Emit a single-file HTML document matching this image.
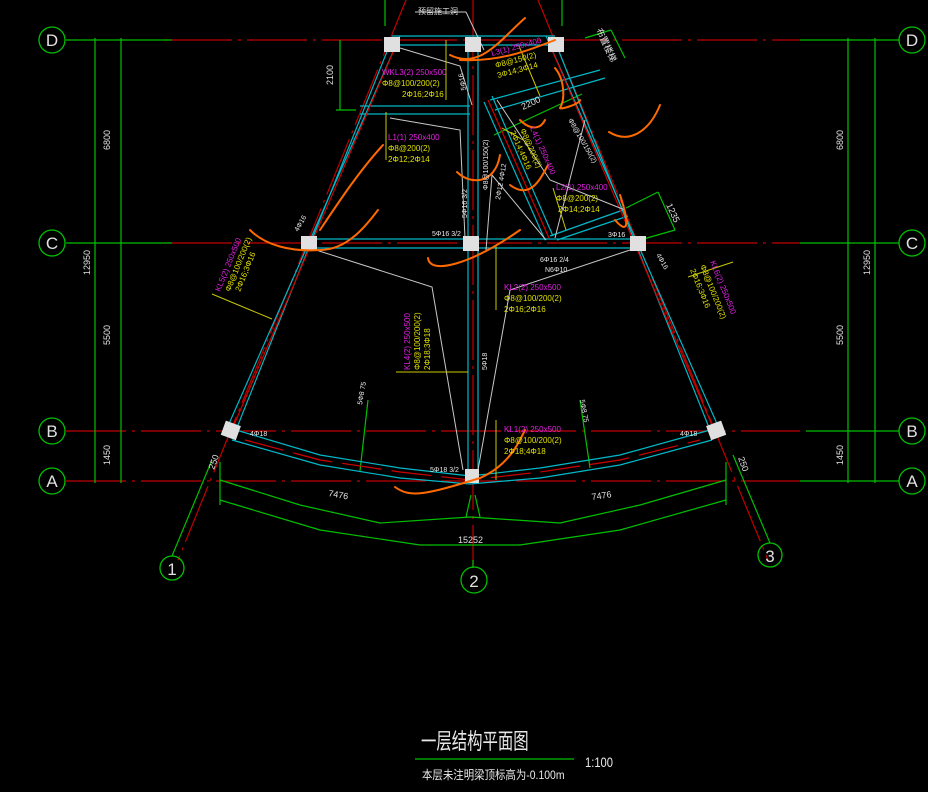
<!DOCTYPE html>
<html><head><meta charset="utf-8"><style>
html,body{margin:0;padding:0;background:#000;}
svg{display:block;}
text{font-family:"Liberation Sans","Noto Sans CJK SC",sans-serif;}
</style></head><body>
<svg width="928" height="792" viewBox="0 0 928 792" xmlns="http://www.w3.org/2000/svg">
<rect width="928" height="792" fill="#000"/>
<g stroke="#c00000" stroke-width="1.2" stroke-dasharray="60,6,3,6">
<line x1="172" y1="40" x2="800" y2="40"/>
<line x1="172" y1="243" x2="800" y2="243"/>
<line x1="66" y1="431" x2="800" y2="431"/>
<line x1="66" y1="481" x2="800" y2="481"/>
<line x1="473" y1="0" x2="473" y2="568"/>
<line x1="406" y1="0" x2="178" y2="560"/>
<line x1="538" y1="0" x2="768" y2="560"/>
</g>
<g stroke="#00c000" stroke-width="1.2" fill="none">
<line x1="66" y1="40" x2="172" y2="40"/>
<line x1="66" y1="243" x2="172" y2="243"/>
<line x1="800" y1="40" x2="899" y2="40"/>
<line x1="800" y1="243" x2="899" y2="243"/>
<line x1="806" y1="431" x2="899" y2="431"/>
<line x1="800" y1="481" x2="899" y2="481"/>
<line x1="95" y1="38" x2="95" y2="483"/>
<line x1="121" y1="38" x2="121" y2="483"/>
<line x1="848" y1="38" x2="848" y2="483"/>
<line x1="875" y1="38" x2="875" y2="483"/>
<line x1="385" y1="0" x2="385" y2="26"/>
<line x1="562" y1="0" x2="562" y2="26"/>
<line x1="473" y1="560" x2="473" y2="568"/>
<polyline points="220,480 300,505 380,523 470,517 560,523 640,505 726,480"/>
<polyline points="220,500 320,530 420,545 520,545 620,530 726,500"/>
<line x1="220" y1="462" x2="220" y2="505"/>
<line x1="726" y1="462" x2="726" y2="505"/>
<line x1="172" y1="556" x2="212" y2="460"/>
<line x1="770" y1="543" x2="733" y2="455"/>
<line x1="466" y1="517" x2="471" y2="495"/>
<line x1="480" y1="517" x2="475" y2="495"/>
<line x1="360" y1="471" x2="368" y2="400"/>
<line x1="590" y1="468" x2="580" y2="400"/>
<line x1="340" y1="40" x2="340" y2="110"/>
<line x1="336" y1="110" x2="356" y2="110"/>
<line x1="494" y1="135" x2="582" y2="94"/>
<line x1="585" y1="38" x2="611" y2="30"/>
<line x1="611" y1="30" x2="625" y2="58"/>
<line x1="658" y1="192" x2="675" y2="230"/>
<line x1="626" y1="208" x2="658" y2="192"/>
<line x1="640" y1="240" x2="675" y2="230"/>
</g>
<g stroke="#00c000" stroke-width="1.3" fill="none">
<circle cx="52" cy="40" r="13"/><circle cx="52" cy="243" r="13"/><circle cx="52" cy="431" r="13"/><circle cx="52" cy="481" r="13"/>
<circle cx="912" cy="40" r="13"/><circle cx="912" cy="243" r="13"/><circle cx="912" cy="431" r="13"/><circle cx="912" cy="481" r="13"/>
<circle cx="172" cy="568" r="12"/><circle cx="474" cy="580" r="13"/><circle cx="770" cy="555" r="12"/>
</g>
<g fill="#e0e0e0" font-size="17" text-anchor="middle">
<text x="52" y="46">D</text><text x="52" y="249">C</text><text x="52" y="437">B</text><text x="52" y="487">A</text>
<text x="912" y="46">D</text><text x="912" y="249">C</text><text x="912" y="437">B</text><text x="912" y="487">A</text>
<text x="172" y="575">1</text><text x="474" y="587">2</text><text x="770" y="562">3</text>
</g>
<g stroke="#00b8c8" stroke-width="1.2" fill="none">
<line x1="400" y1="36" x2="228" y2="426"/><line x1="390" y1="44" x2="236" y2="430"/>
<line x1="546" y1="36" x2="718" y2="426"/><line x1="556" y1="44" x2="710" y2="430"/>
<line x1="392" y1="36" x2="555" y2="36"/><line x1="392" y1="45" x2="555" y2="45"/>
<line x1="308" y1="239" x2="638" y2="239"/><line x1="308" y1="248" x2="638" y2="248"/>
<line x1="468" y1="44" x2="468" y2="476"/><line x1="478" y1="44" x2="478" y2="476"/>
<line x1="360" y1="106" x2="470" y2="106"/><line x1="360" y1="114" x2="470" y2="114"/>
<line x1="484" y1="102" x2="545" y2="240"/><line x1="492" y1="96" x2="553" y2="236"/>
<line x1="490" y1="100" x2="600" y2="70"/><line x1="495" y1="110" x2="605" y2="78"/>
<line x1="557" y1="240" x2="628" y2="216"/><line x1="550" y1="236" x2="623" y2="210"/>
<polyline points="236,430 320,455 400,468 470,476 540,468 620,455 710,430"/>
<polyline points="232,440 320,465 400,478 470,484 540,478 620,465 712,440"/>
</g>
<g stroke="#d00000" stroke-width="1.2" fill="none">
<line x1="394" y1="50" x2="234" y2="425"/>
<line x1="552" y1="50" x2="712" y2="425"/>
<polyline points="245,440 320,460 400,472 470,480 540,472 620,460 700,440" stroke-dasharray="40,10"/>
<line x1="488" y1="100" x2="549" y2="238"/>
</g>
<g stroke="#c8c8c8" stroke-width="1" fill="none">
<polyline points="316,250 432,287 463,470"/>
<polyline points="630,250 510,290 478,470"/>
<polyline points="400,48 460,66 472,105"/>
<line x1="415" y1="12" x2="466" y2="12"/><line x1="466" y1="12" x2="484" y2="50"/>
<polyline points="497,100 550,180 625,210"/>
<polyline points="486,250 492,175 546,240"/>
<line x1="555" y1="238" x2="585" y2="120"/>
<polyline points="390,118 460,130 465,238"/>
</g>
<g stroke="#c8c800" stroke-width="1" fill="none">
<line x1="446" y1="40" x2="446" y2="100"/>
<line x1="386" y1="112" x2="386" y2="160"/>
<line x1="519" y1="46" x2="540" y2="96"/>
<line x1="496" y1="245" x2="496" y2="310"/>
<line x1="396" y1="372" x2="468" y2="372"/>
<line x1="496" y1="420" x2="496" y2="480"/>
<line x1="212" y1="294" x2="272" y2="319"/>
<line x1="733" y1="262" x2="688" y2="277"/>
<line x1="502" y1="128" x2="523" y2="140"/>
<line x1="553" y1="188" x2="566" y2="230"/>
</g>
<g fill="#e0e0e0">
<rect x="384" y="37" width="16" height="15"/><rect x="465" y="37" width="16" height="15"/><rect x="548" y="37" width="16" height="15"/>
<rect x="301" y="236" width="16" height="15"/><rect x="463" y="236" width="16" height="15"/><rect x="630" y="236" width="16" height="15"/>
<rect x="223" y="423" width="16" height="15" transform="rotate(20 231 430)"/><rect x="708" y="423" width="16" height="15" transform="rotate(-20 716 430)"/>
<rect x="465" y="469" width="14" height="14"/>
</g>
<g stroke="#ff6a00" stroke-width="2" fill="none" stroke-linecap="round">
<path d="M450,55 C480,70 500,40 525,18"/>
<path d="M460,60 C500,62 530,50 555,40"/>
<path d="M555,68 C565,80 565,100 560,108 C560,110 580,104 580,100"/>
<path d="M250,230 C265,245 290,252 320,250 C350,250 370,220 378,210"/>
<path d="M383,145 C360,170 340,200 320,230"/>
<path d="M428,258 C430,275 470,265 520,230"/>
<path d="M457,172 C470,185 495,185 500,155"/>
<path d="M510,185 C530,200 540,180 548,165"/>
<path d="M609,132 C630,145 650,130 660,105"/>
<path d="M620,195 C630,225 628,235 615,220"/>
<path d="M395,487 C410,498 425,495 480,478 C510,465 520,440 525,430"/>
<path d="M520,120 C530,130 540,130 545,120"/>
</g>
<g fill="#e0e0e0" font-size="9">
<text transform="translate(110,150) rotate(-90)">6800</text>
<text transform="translate(110,345) rotate(-90)">5500</text>
<text transform="translate(110,465) rotate(-90)">1450</text>
<text transform="translate(90,275) rotate(-90)">12950</text>
<text transform="translate(843,150) rotate(-90)">6800</text>
<text transform="translate(843,345) rotate(-90)">5500</text>
<text transform="translate(843,465) rotate(-90)">1450</text>
<text transform="translate(870,275) rotate(-90)">12950</text>
<text transform="translate(333,85) rotate(-90)">2100</text>
<text transform="translate(523,110) rotate(-25)">2200</text>
<text transform="translate(666,205) rotate(65)">1235</text>
<text transform="translate(596,30) rotate(65)">布置楼梯</text>
<text x="328" y="496" transform="rotate(10 328 496)">7476</text>
<text x="592" y="500" transform="rotate(-8 592 500)">7476</text>
<text x="458" y="543">15252</text>
<text transform="translate(214,470) rotate(-70)">250</text>
<text transform="translate(738,458) rotate(70)">250</text>
<text x="418" y="14" font-size="8">预留施工洞</text>
</g>
<g fill="#e8e8e8" font-size="7">
<text x="432" y="236">5Φ16 3/2</text>
<text x="608" y="237">3Φ16</text>
<text x="540" y="262">6Φ16 2/4</text>
<text x="545" y="272">N6Φ10</text>
<text x="430" y="472">5Φ18 3/2</text>
<text x="250" y="436">4Φ18</text>
<text x="680" y="436">4Φ18</text>
<text transform="translate(487,370) rotate(-90)">5Φ18</text>
<text transform="translate(467,218) rotate(-90)">5Φ16 3/2</text>
<text transform="translate(298,232) rotate(-60)">4Φ16</text>
<text transform="translate(656,255) rotate(60)">4Φ16</text>
<text transform="translate(362,405) rotate(-80)">5Φ8 75</text>
<text transform="translate(580,400) rotate(80)">5Φ8 75</text>
<text transform="translate(488,190) rotate(-90)">Φ8@100/150(2)</text>
<text transform="translate(500,200) rotate(-80)">2Φ12 4Φ12</text>
<text transform="translate(466,90) rotate(-100)">5Φ16</text>
<text transform="translate(568,120) rotate(60)">Φ8@100/150(2)</text>
</g>
<g font-size="8">
<text x="382" y="75" fill="#e020e0">WKL3(2) 250x500</text>
<text x="382" y="86" fill="#e0e000">Φ8@100/200(2)</text>
<text x="402" y="97" fill="#e0e000">2Φ16;2Φ16</text>
<text x="388" y="140" fill="#e020e0">L1(1) 250x400</text>
<text x="388" y="151" fill="#e0e000">Φ8@200(2)</text>
<text x="388" y="162" fill="#e0e000">2Φ12;2Φ14</text>
<text x="492" y="56" fill="#e020e0" transform="rotate(-15 492 56)">L3(1) 250x400</text>
<text x="496" y="68" fill="#e0e000" transform="rotate(-15 496 68)">Φ8@150(2)</text>
<text x="498" y="78" fill="#e0e000" transform="rotate(-15 498 78)">3Φ14;3Φ14</text>
<text x="556" y="190" fill="#e020e0">L2(1) 250x400</text>
<text x="556" y="201" fill="#e0e000">Φ8@200(2)</text>
<text x="558" y="212" fill="#e0e000">2Φ14;2Φ14</text>
<text x="504" y="290" fill="#e020e0">KL2(2) 250x500</text>
<text x="504" y="301" fill="#e0e000">Φ8@100/200(2)</text>
<text x="504" y="312" fill="#e0e000">2Φ16;2Φ16</text>
<text x="504" y="432" fill="#e020e0">KL1(2) 250x500</text>
<text x="504" y="443" fill="#e0e000">Φ8@100/200(2)</text>
<text x="504" y="454" fill="#e0e000">2Φ18;4Φ18</text>
<text transform="translate(410,370) rotate(-90)" fill="#e020e0">KL4(2) 250x500</text>
<text transform="translate(420,370) rotate(-90)" fill="#e0e000">Φ8@100/200(2)</text>
<text transform="translate(430,370) rotate(-90)" fill="#e0e000">2Φ18;3Φ18</text>
<text transform="translate(220,292) rotate(-68)" fill="#e020e0">KL5(2) 250x500</text>
<text transform="translate(230,292) rotate(-68)" fill="#e0e000">Φ8@100/200(2)</text>
<text transform="translate(240,292) rotate(-68)" fill="#e0e000">2Φ16;3Φ16</text>
<text transform="translate(710,262) rotate(68)" fill="#e020e0">KL6(2) 250x500</text>
<text transform="translate(700,266) rotate(68)" fill="#e0e000">Φ8@100/200(2)</text>
<text transform="translate(690,270) rotate(68)" fill="#e0e000">2Φ16;3Φ16</text>
<text transform="translate(530,128) rotate(66)" fill="#e020e0">L4(1) 250x400</text>
<text transform="translate(520,130) rotate(66)" fill="#e0e000">Φ8@200(2)</text>
<text transform="translate(510,132) rotate(66)" fill="#e0e000">2Φ14;4Φ16</text>
</g>
<text transform="translate(421,749) scale(0.7,1)" fill="#e8e8e8" font-size="22">一层结构平面图</text>
<line x1="415" y1="759" x2="574" y2="759" stroke="#00c000" stroke-width="1.2"/>
<text transform="translate(585,767) scale(0.8,1)" fill="#e8e8e8" font-size="14">1:100</text>
<text transform="translate(422,779) scale(0.87,1)" fill="#e8e8e8" font-size="12">本层未注明梁顶标高为-0.100m</text>
</svg>
</body></html>
